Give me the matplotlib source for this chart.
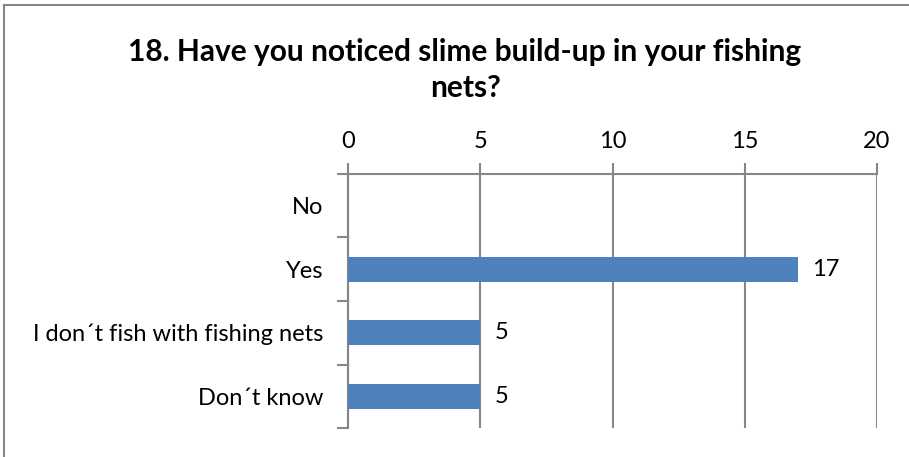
import matplotlib.pyplot as plt
from matplotlib.lines import Line2D

categories = ['No', 'Yes', 'I don\u00b4t fish with fishing nets', 'Don\u00b4t know']
values = [0, 17, 5, 5]
x_ticks = [0, 5, 10, 15, 20]

plt.rcParams['font.family'] = ['Lato', 'DejaVu Sans']

W, H = 909, 457
fig = plt.figure(figsize=(W / 100, H / 100), dpi=100)
ax = fig.add_axes([348 / W, 1 - 428 / H, (877 - 348) / W, (428 - 174) / H])

gray = '#868686'
fs = 17
pos = list(range(len(categories)))
ax.barh(pos, values, height=0.4, color='#4f81bd', zorder=3)
for p, v in zip(pos, values):
    if v > 0:
        ax.text(v + 0.55, p, str(v), va='center', ha='left', fontsize=fs, color='black')

ax.set_xlim(0, 20)
ax.set_ylim(len(categories) - 0.5, -0.5)
ax.xaxis.tick_top()
ax.set_xticks(x_ticks)
ax.set_xticklabels([str(t) for t in x_ticks], fontsize=fs)
ax.tick_params(axis='x', length=8, width=1.5, color=gray, pad=8)

# category labels sit between boundary tick marks
ax.set_yticks(pos)
ax.set_yticklabels(categories, fontsize=fs)
ax.tick_params(axis='y', length=0, pad=18)
ax.set_yticks([p - 0.5 for p in pos] + [len(pos) - 0.5], minor=True)
ax.tick_params(axis='y', which='minor', length=8, width=1.5, color=gray)

ax.grid(axis='x', color=gray, linewidth=1.5, zorder=0)
for side in ['right', 'bottom']:
    ax.spines[side].set_visible(False)
for side in ['left', 'top']:
    ax.spines[side].set_color(gray)
    ax.spines[side].set_linewidth(1.5)

fig.text(465 / W, 1 - 52 / H, '18. Have you noticed slime build-up in your fishing',
         ha='center', va='center', fontsize=21.5, fontweight='bold')
fig.text(465 / W, 1 - 88 / H, 'nets?', ha='center', va='center',
         fontsize=21.5, fontweight='bold')

# chart frame: left and top edges only
fig.lines.append(Line2D([4 / W, 4 / W], [0, 1 - 5 / H], transform=fig.transFigure,
                        color=gray, linewidth=1.5))
fig.lines.append(Line2D([4 / W, 1], [1 - 5 / H, 1 - 5 / H], transform=fig.transFigure,
                        color=gray, linewidth=1.5))

fig.savefig('out.png', dpi=100)
